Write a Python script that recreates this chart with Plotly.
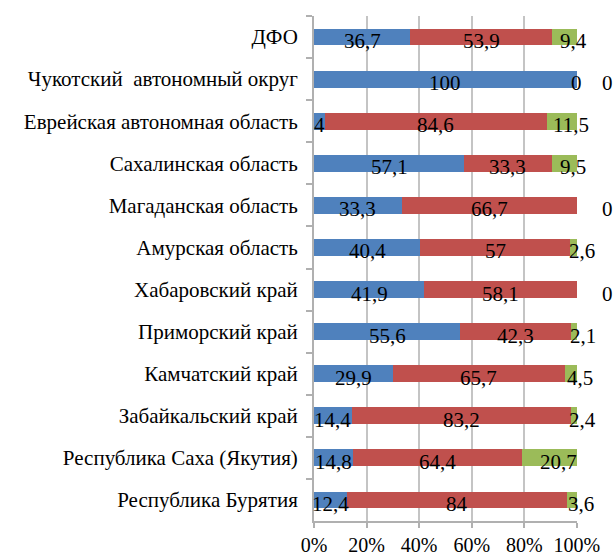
import plotly.graph_objects as go

categories = [
    "ДФО",
    "Чукотский  автономный округ",
    "Еврейская автономная область",
    "Сахалинская область",
    "Магаданская область",
    "Амурская область",
    "Хабаровский край",
    "Приморский край",
    "Камчатский край",
    "Забайкальский край",
    "Республика Саха (Якутия)",
    "Республика Бурятия",
]
blue_vals = [36.7, 100, 4, 57.1, 33.3, 40.4, 41.9, 55.6, 29.9, 14.4, 14.8, 12.4]
red_vals = [53.9, 0, 84.6, 33.3, 66.7, 57, 58.1, 42.3, 65.7, 83.2, 64.4, 84]
green_vals = [9.4, 0, 11.5, 9.5, 0, 2.6, 0, 2.1, 4.5, 2.4, 20.7, 3.6]
tick_vals = [0, 20, 40, 60, 80, 100]
tick_text = ["0%", "20%", "40%", "60%", "80%", "100%"]

FONT = "Times New Roman"
colors = ["#4F81BD", "#C0504D", "#9BBB59"]
series = [blue_vals, red_vals, green_vals]

fig = go.Figure()
for vals, col in zip(series, colors):
    fig.add_trace(go.Bar(
        y=categories, x=vals, orientation="h",
        marker=dict(color=col, line=dict(width=0)),
        width=0.4, hoverinfo="skip", showlegend=False,
    ))

def fmt(v):
    return ("%g" % v).replace(".", ",")

annotations = []
for i, cat in enumerate(categories):
    start = 0.0
    for k, vals in enumerate(series):
        v = vals[i]
        center = round(min(start + v / 2.0, 100.0), 6)
        xshift = 0
        if k == 2:
            xshift = 31 if v == 0 else 9
        if not (k == 0 and v == 0):
            annotations.append(dict(
                x=center, y=cat, xref="x", yref="y", text=fmt(v),
                showarrow=False, xshift=xshift, yshift=-4,
                font=dict(family=FONT, size=21, color="black"),
            ))
        start += v

fig.update_layout(
    barmode="stack",
    width=616, height=557,
    margin=dict(l=314, r=39, t=16, b=36, autoexpand=False),
    paper_bgcolor="white", plot_bgcolor="white",
    annotations=annotations,
    font=dict(family=FONT, size=20, color="black"),
    xaxis=dict(
        range=[0, 100.05], tickvals=tick_vals, ticktext=tick_text,
        automargin=False,
        showgrid=True, gridcolor="#C4C4C4", gridwidth=2,
        zeroline=False, showline=True, linecolor="#B0B0B0", linewidth=2,
        ticks="outside", ticklen=5, tickcolor="#B0B0B0", tickwidth=2,
        ticklabelstandoff=0,
        tickfont=dict(family=FONT, size=20, color="black"),
    ),
    yaxis=dict(
        autorange="reversed", automargin=False,
        showgrid=False, zeroline=False,
        showline=True, linecolor="#B0B0B0", linewidth=2,
        ticks="outside", ticklen=6, tickcolor="#B0B0B0", tickwidth=2,
        tickson="boundaries", ticklabelstandoff=10,
        tickfont=dict(family=FONT, size=21, color="black"),
    ),
)

fig.write_html(
    "out.html",
    config={"displayModeBar": False},
    post_script="document.body.style.margin='0';document.body.style.overflow='hidden';",
)
